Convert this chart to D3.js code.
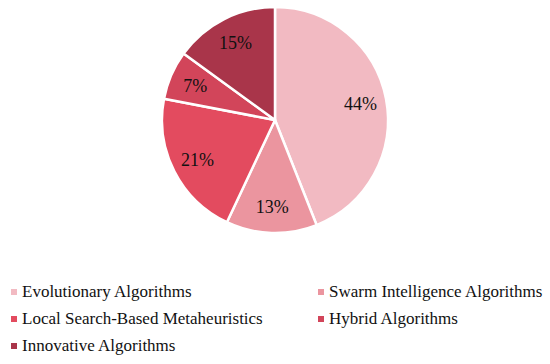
<!DOCTYPE html>
<html>
<head>
<meta charset="utf-8">
<script src="https://cdn.jsdelivr.net/npm/d3@7"></script>
<style>
  body { margin: 0; background: #fff; }
  svg { display: block; }
</style>
</head>
<body>
<div id="chart"></div>
<script>
const categories = [
  'Evolutionary Algorithms',
  'Swarm Intelligence Algorithms',
  'Local Search-Based Metaheuristics',
  'Hybrid Algorithms',
  'Innovative Algorithms'
];
const shares = [44, 13, 21, 7, 15];
const colors = ['#f2bac2', '#eb959f', '#e34b5f', '#d2455a', '#a9354a'];

const width = 550;
const height = 364;
const cx = 275;
const cy = 120;
const outerR = 113;
const labelR = 87;
const serif = "'Liberation Serif', 'Times New Roman', Times, 'DejaVu Serif', serif";

const svg = d3.select('#chart').append('svg')
  .attr('width', width)
  .attr('height', height);

const color = d3.scaleOrdinal().domain(categories).range(colors);

const data = categories.map((c, i) => ({ name: c, value: shares[i] }));

const pie = d3.pie()
  .value(d => d.value)
  .sort(null);

const arc = d3.arc().innerRadius(0).outerRadius(outerR);
const labelArc = d3.arc().innerRadius(labelR).outerRadius(labelR);

const g = svg.append('g')
  .attr('transform', 'translate(' + cx + ',' + cy + ')');

const slices = g.selectAll('g.slice')
  .data(pie(data))
  .enter().append('g')
  .attr('class', 'slice');

slices.append('path')
  .attr('d', arc)
  .attr('fill', d => color(d.data.name))
  .attr('stroke', '#fff')
  .attr('stroke-width', 2.5)
  .attr('stroke-linejoin', 'round');

slices.append('text')
  .attr('transform', d => 'translate(' + labelArc.centroid(d) + ')')
  .attr('text-anchor', 'middle')
  .attr('dy', '0.35em')
  .attr('font-family', serif)
  .attr('font-size', 18)
  .attr('fill', '#111')
  .text(d => d.data.value + '%');

// legend, two columns
const legendX = [11, 318];
const legendY = [297, 324, 351];

const legend = svg.selectAll('g.legend')
  .data(categories)
  .enter().append('g')
  .attr('class', 'legend')
  .attr('transform', (d, i) => 'translate(' + legendX[i % 2] + ',' + legendY[Math.floor(i / 2)] + ')');

legend.append('rect')
  .attr('x', 0)
  .attr('y', -8)
  .attr('width', 6)
  .attr('height', 6)
  .attr('fill', d => color(d));

legend.append('text')
  .attr('x', 11)
  .attr('y', 0)
  .attr('font-family', serif)
  .attr('font-size', 17)
  .attr('fill', '#111')
  .text(d => d);
</script>
</body>
</html>
